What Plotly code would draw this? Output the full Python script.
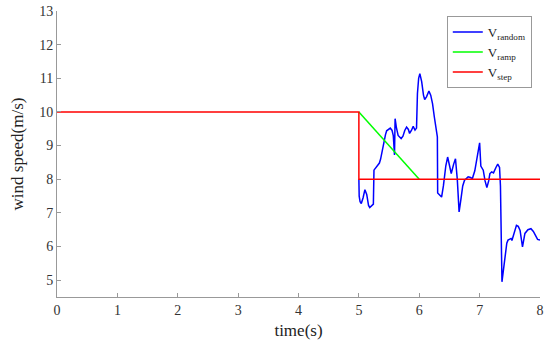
import plotly.graph_objects as go

# Step wind
step_t = [0, 5, 5, 8]
step_v = [10, 10, 8, 8]

# Ramp wind
ramp_t = [5, 6]
ramp_v = [10, 8]

# Random wind
rand_t = [5.00, 5.005, 5.02, 5.04, 5.07, 5.10, 5.13, 5.16, 5.18, 5.22, 5.24, 5.25, 5.28, 5.31,
          5.34, 5.36, 5.39, 5.41, 5.44, 5.46, 5.49, 5.52, 5.55, 5.57, 5.59, 5.60, 5.62, 5.65,
          5.70, 5.73, 5.76, 5.79, 5.82, 5.84, 5.87, 5.90, 5.93, 5.955, 5.97, 5.99, 6.01, 6.04,
          6.07, 6.09, 6.12, 6.16, 6.19, 6.22, 6.25, 6.27, 6.30, 6.305, 6.33, 6.37, 6.40, 6.44,
          6.47, 6.50, 6.53, 6.57, 6.60, 6.63, 6.66, 6.69, 6.72, 6.75, 6.81, 6.85, 6.88, 6.92,
          6.95, 6.98, 7.00, 7.02, 7.06, 7.09, 7.12, 7.15, 7.17, 7.20, 7.23, 7.27, 7.30, 7.33,
          7.345, 7.37, 7.40, 7.42, 7.45, 7.47, 7.50, 7.52, 7.535, 7.56, 7.61, 7.64, 7.67, 7.71,
          7.75, 7.80, 7.85, 7.89, 7.92, 7.96, 8.00]
rand_v = [8.0, 7.5, 7.33, 7.28, 7.45, 7.69, 7.55, 7.22, 7.16, 7.22, 7.26, 8.27, 8.35, 8.39,
          8.48, 8.60, 8.90, 9.11, 9.32, 9.44, 9.48, 9.52, 9.45, 9.30, 8.72, 9.80, 9.55, 9.30,
          9.21, 9.28, 9.45, 9.55, 9.48, 9.36, 9.45, 9.57, 9.46, 9.52, 10.55, 11.0, 11.14, 10.9,
          10.5, 10.37, 10.45, 10.62, 10.50, 10.25, 9.85, 9.55, 9.26, 7.59, 7.55, 7.47, 7.8, 8.4,
          8.66, 8.45, 8.17, 8.45, 8.61, 8.0, 7.03, 7.4, 7.8, 7.97, 8.07, 8.05, 8.02, 8.25,
          8.56, 8.85, 9.08, 8.39, 8.27, 7.95, 7.75, 7.95, 8.17, 8.22, 8.19, 8.35, 8.45, 8.35,
          7.8, 4.95, 5.4, 5.79, 6.1, 6.19, 6.22, 6.24, 6.18, 6.35, 6.63, 6.6, 6.48, 5.99,
          6.39, 6.5, 6.53, 6.45, 6.34, 6.21, 6.19]

x_ticks = [0, 1, 2, 3, 4, 5, 6, 7, 8]
y_ticks = [5, 6, 7, 8, 9, 10, 11, 12, 13]

FONT = "Liberation Serif, Times New Roman, serif"

fig = go.Figure()
fig.add_trace(go.Scatter(x=rand_t, y=rand_v, mode="lines", name="V<sub>random</sub>",
                         line=dict(color="#0000ff", width=1.5)))
fig.add_trace(go.Scatter(x=ramp_t, y=ramp_v, mode="lines", name="V<sub>ramp</sub>",
                         line=dict(color="#00ff00", width=1.5)))
fig.add_trace(go.Scatter(x=step_t, y=step_v, mode="lines", name="V<sub>step</sub>",
                         line=dict(color="#ff0000", width=1.5)))

axis_common = dict(showgrid=False, zeroline=False, showline=True, linecolor="#999999",
                   linewidth=1, ticks="inside", ticklen=4, tickcolor="#999999",
                   automargin=False, ticklabeloverflow="allow",
                   tickfont=dict(family=FONT, size=14, color="#333333"))

fig.update_xaxes(range=[0, 8], tickvals=x_ticks, ticktext=[str(v) for v in x_ticks],
                 title=dict(text="time(s)", font=dict(family=FONT, size=17, color="#222222"),
                            standoff=7),
                 **axis_common)
fig.update_yaxes(range=[4.5, 13], tickvals=y_ticks, ticktext=[str(v) for v in y_ticks],
                 title=dict(text="wind speed(m/s)", font=dict(family=FONT, size=17, color="#222222"),
                            standoff=11),
                 **axis_common)

fig.update_layout(
    width=550, height=349,
    margin=dict(l=57, r=10, t=11, b=52),
    paper_bgcolor="white", plot_bgcolor="white",
    font=dict(family=FONT, size=14, color="#222222"),
    legend=dict(x=0.983, y=0.982, xanchor="right", yanchor="top",
                bgcolor="white", bordercolor="#999999", borderwidth=1,
                font=dict(family=FONT, size=13, color="#222222"),
                tracegroupgap=0, itemwidth=30),
    showlegend=True,
)

# remove the default 8px page margin so the figure sits at the window origin
fig.write_html("out.html", config={"displayModeBar": False},
               post_script="document.body.style.margin='0px';document.body.style.overflow='hidden';")
